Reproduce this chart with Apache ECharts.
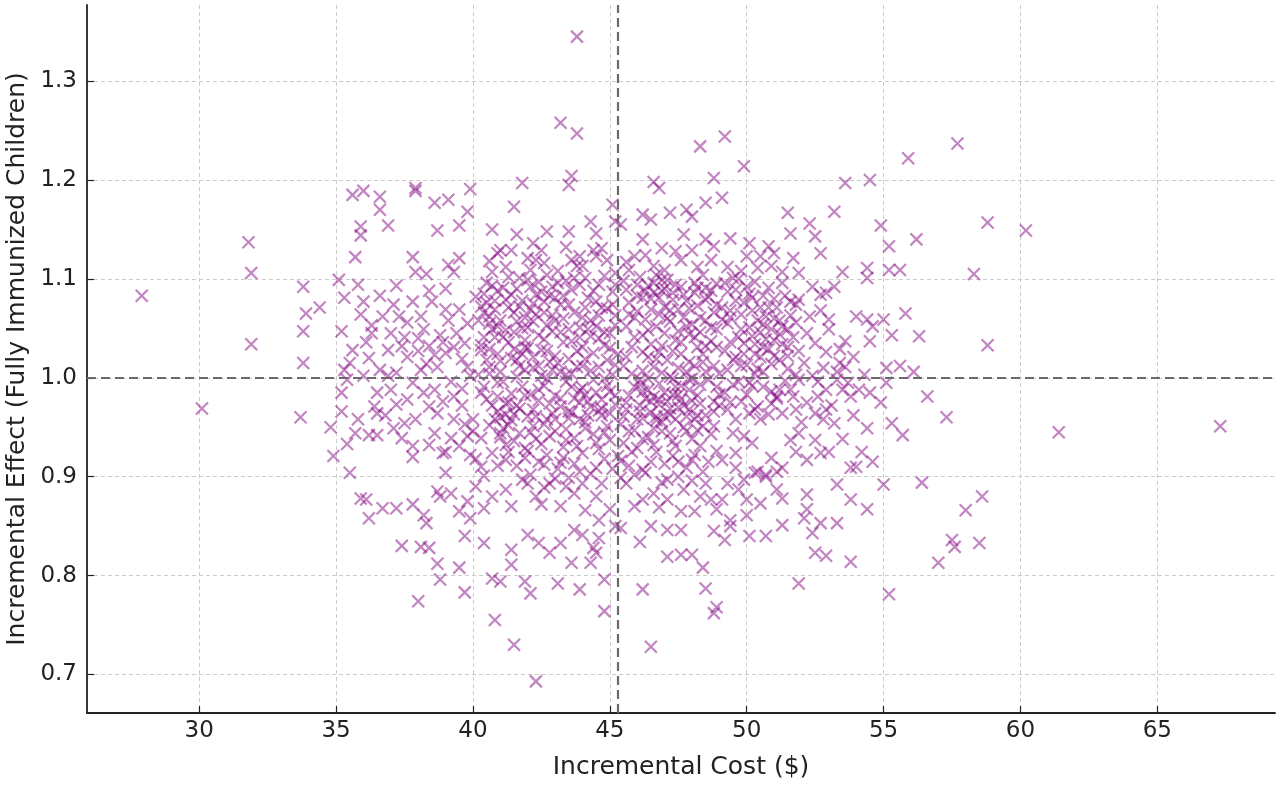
<!DOCTYPE html>
<html><head><meta charset="utf-8">
<script src="https://cdn.jsdelivr.net/npm/echarts@6/dist/echarts.min.js"></script>
<style>html,body{margin:0;padding:0;background:#fff}#c{width:1280px;height:787px}</style>
</head><body><div id="c"></div>
<script>
const xTicks = [30, 35, 40, 45, 50, 55, 60, 65];
const yTicks = [0.7, 0.8, 0.9, 1.0, 1.1, 1.2, 1.3];
const meanCost = 45.3;
const meanEffect = 1.0;

const periphery = [[27.9,1.083],[30.1,0.969],[31.8,1.137],[31.9,1.106],[31.9,1.034],[67.3,0.951],[61.4,0.945],[60.2,1.149],[58.8,1.157],[58.8,1.033],[58.3,1.105],[57.7,1.237],[58.6,0.880],[58.5,0.833],[58.0,0.866],[57.5,0.836],[57.6,0.829],[57.3,0.960],[56.6,0.981],
[43.8,1.345],[43.2,1.258],[43.8,1.247],[49.2,1.244],[48.3,1.234]];

const upperLeft = [[35.6,1.185],[36.0,1.189],[36.6,1.183],[36.6,1.170],[36.9,1.154],[35.9,1.153],[35.9,1.144],[37.9,1.192],[37.9,1.189],[38.6,1.177],[39.1,1.180],[39.9,1.191],[39.8,1.168],[38.7,1.149],[39.5,1.154],[40.7,1.150],[35.7,1.122],[37.8,1.122],[37.9,1.107],[38.3,1.105],[39.1,1.114],[39.5,1.121],[39.3,1.107],[40.7,1.107],[40.9,1.126],[33.8,1.092],[35.1,1.099],[35.8,1.094],[35.3,1.081],[36.0,1.077],[37.2,1.093],[33.9,1.065],[34.4,1.071],[33.8,1.047],[33.8,1.015],[37.1,1.074],[37.3,1.062],[37.8,1.077],[38.5,1.077],[38.1,1.062],[39.0,1.069],[36.3,1.053],[36.7,1.062],[36.1,1.036],[36.2,1.020],[35.5,1.015],[35.3,1.008],[36.6,1.008],[37.2,1.005],[38.0,1.027],[38.4,1.032],[38.8,1.043],[39.0,1.025],[39.7,1.035],[39.8,1.055],[40.1,1.082],[40.5,1.076],[40.6,1.055],[40.3,1.028],[39.8,1.011],[40.6,1.011],[38.7,1.011],[38.1,1.008],[37.8,0.995],[35.2,0.985],[36.5,0.985],[38.6,0.988],[39.3,0.981],[40.3,0.985],[37.6,0.978]];

const lowerLeft = [[33.7,0.960],[35.2,0.966],[34.8,0.950],[35.7,0.944],[35.4,0.933],[34.9,0.921],[35.5,0.904],[36.2,0.942],[36.5,0.942],[36.5,0.964],[37.1,0.949],[37.5,0.954],[37.8,0.931],[37.8,0.920],[38.4,0.932],[38.7,0.964],[38.9,0.924],[39.0,0.925],[39.5,0.931],[40.0,0.946],[40.3,0.910],[39.9,0.922],[39.0,0.904],[35.9,0.878],[36.1,0.877],[36.2,0.858],[36.7,0.868],[37.2,0.868],[37.8,0.872],[38.2,0.861],[38.3,0.853],[38.7,0.885],[38.8,0.880],[39.2,0.883],[39.5,0.865],[39.8,0.875],[39.9,0.858],[40.1,0.890],[40.4,0.868],[40.7,0.880],[37.4,0.830],[38.1,0.829],[38.4,0.828],[38.7,0.812],[38.8,0.796],[39.5,0.808],[39.7,0.840],[40.4,0.833],[39.7,0.783],[38.0,0.774],[40.8,0.755],[40.7,0.797]];

const lowerMid = [[41.4,0.826],[41.4,0.811],[41.0,0.794],[41.9,0.794],[42.1,0.782],[42.0,0.841],[42.4,0.833],[42.8,0.823],[43.2,0.833],[43.1,0.792],[43.6,0.813],[43.9,0.786],[43.7,0.846],[44.0,0.841],[44.4,0.828],[44.5,0.823],[44.3,0.813],[44.6,0.838],[44.8,0.796],[44.8,0.764],[41.5,0.730],[42.3,0.693],[46.5,0.728],[46.2,0.786],[47.1,0.846],[47.6,0.846],[47.1,0.819],[47.6,0.821],[48.0,0.821],[48.4,0.808],[48.5,0.787],[48.8,0.762],[48.9,0.768],[48.8,0.845],[47.6,0.865],[46.5,0.850],[46.1,0.834],[45.4,0.848],[48.7,0.877],
[41.4,0.870],[42.3,0.880],[43.2,0.870],[43.4,0.890],[43.7,0.883],[44.5,0.880],[44.6,0.856],[45.0,0.867],[45.2,0.850],[45.9,0.870],[46.2,0.877],[46.6,0.883],[47.1,0.877],[47.7,0.887],[48.3,0.880],[48.9,0.867],[41.2,0.887],[42.0,0.893],[42.8,0.893],[44.0,0.893],[45.6,0.893],[47.1,0.897],[48.5,0.893]];

const midBand = [[41.2,0.974],[41.7,0.969],[42.4,0.977],[43.2,0.971],[43.9,0.975],[44.6,0.967],[45.2,0.973],[46.1,0.966],[46.8,0.978],[47.5,0.970],[48.3,0.974],[48.8,0.966],
[41.4,0.957],[42.0,0.961],[42.6,0.953],[43.5,0.959],[44.1,0.955],[44.7,0.962],[45.4,0.953],[46.2,0.959],[46.9,0.955],[47.8,0.961],[48.4,0.951],
[41.0,0.940],[41.7,0.944],[42.3,0.938],[43.0,0.946],[43.7,0.939],[44.4,0.943],[45.0,0.937],[45.7,0.946],[46.4,0.940],[47.2,0.944],[48.0,0.938],[48.7,0.943],
[41.3,0.925],[41.9,0.929],[42.7,0.922],[43.3,0.930],[44.0,0.924],[44.6,0.928],[45.3,0.921],[46.0,0.929],[46.7,0.925],[47.4,0.931],[48.1,0.922],
[41.6,0.911],[42.4,0.915],[43.1,0.908],[43.7,0.913],[44.5,0.909],[45.4,0.916],[46.2,0.907],[47.0,0.913],[47.8,0.909],[48.6,0.915],
[42.1,0.902],[43.0,0.898],[44.3,0.903],[45.4,0.899],[46.3,0.904],[47.5,0.900],[48.4,0.905]];

const upperMid = [[41.8,1.197],[41.5,1.173],[43.6,1.204],[43.5,1.195],[46.6,1.198],[46.8,1.192],[45.1,1.175],[45.2,1.158],[45.4,1.155],[44.3,1.158],[44.5,1.146],[43.5,1.148],[42.7,1.148],[41.6,1.145],[41.0,1.129],[41.4,1.129],[42.2,1.136],[42.5,1.129],[42.0,1.121],[42.3,1.119],[43.6,1.119],[43.9,1.123],[44.4,1.129],[44.5,1.123],[46.2,1.165],[46.5,1.160],[47.2,1.167],[47.8,1.170],[46.2,1.140],[46.9,1.131],[47.7,1.145],[45.9,1.123],[47.6,1.119],[48.0,1.129],[45.7,1.109],[46.6,1.113],[48.0,1.163],[43.8,1.113],[44.9,1.119],[45.2,1.106],
[40.6,1.118],[41.2,1.112],[42.6,1.116],[43.1,1.108],[44.0,1.113],[44.7,1.131],[45.6,1.117],[46.3,1.124],[47.0,1.109],[47.4,1.128],[48.2,1.112],[48.7,1.119],[49.3,1.112],[49.8,1.108],[50.4,1.111],[51.0,1.126],[42.1,1.109],[43.4,1.132],[46.7,1.104],[50.3,1.097]];

const upperRight = [[49.9,1.214],[48.8,1.202],[49.1,1.182],[48.5,1.177],[55.9,1.222],[53.6,1.197],[54.5,1.200],[51.5,1.167],[53.2,1.168],[52.3,1.156],[52.5,1.143],[51.6,1.146],[54.9,1.154],[55.2,1.133],[56.2,1.140],[52.7,1.126],[51.7,1.121],[49.4,1.141],[48.5,1.140],[48.8,1.133],[50.1,1.136],[50.8,1.133],[50.5,1.123],[50.0,1.123],[50.9,1.113],[51.3,1.107],[51.9,1.106],[53.5,1.107],[54.4,1.111],[54.4,1.101],[55.2,1.109],[55.6,1.109],[56.3,1.042],[53.2,1.092],[52.7,1.084],[52.9,1.086],[54.0,1.062],[54.4,1.059],[55.0,1.059],[55.8,1.065],[55.3,1.043],[54.5,1.037],[53.6,1.037],[53.0,1.059],[53.0,1.049],[52.2,1.045],[52.5,1.035],[51.9,1.027],[51.9,1.079],[51.8,1.074],[51.6,1.077],[51.3,1.096],[56.1,1.006],[55.1,1.010],[53.6,1.011],[53.4,1.015],[53.3,1.006],[52.8,1.010],[53.5,0.988],[52.9,0.988],[51.9,0.998],[51.6,0.988],[51.1,0.981],[50.1,0.995],[54.3,1.003],[54.5,0.985],[55.1,0.995],[54.9,0.975],[55.6,1.012],[52.6,0.981],[53.1,0.972],[53.7,0.995],[52.2,0.975],[53.9,0.962]];

const lowerRight = [[54.4,0.949],[55.3,0.954],[55.7,0.942],[51.9,0.944],[52.5,0.937],[53.0,0.925],[52.7,0.924],[51.8,0.925],[52.2,0.917],[54.2,0.925],[54.6,0.915],[53.8,0.909],[54.0,0.910],[53.3,0.892],[55.0,0.892],[56.4,0.894],[53.8,0.877],[54.4,0.867],[52.2,0.882],[51.3,0.878],[51.1,0.887],[51.3,0.909],[52.2,0.867],[52.1,0.858],[52.7,0.853],[53.3,0.853],[51.3,0.851],[52.4,0.843],[52.5,0.823],[52.9,0.820],[53.8,0.814],[51.9,0.792],[55.2,0.781],[57.0,0.813],[50.1,0.840],[50.7,0.840],[49.4,0.850],[49.2,0.836],[50.0,0.861],[50.5,0.873],[50.0,0.877],[49.4,0.856],[50.3,0.904],[50.7,0.900],[51.1,0.905],[49.9,0.897],[49.7,0.887],[49.3,0.893],[49.1,0.877],
[49.3,0.968],[49.6,0.958],[50.1,0.964],[50.5,0.958],[50.8,0.963],[51.3,0.964],[51.8,0.968],[52.5,0.964],[52.9,0.968],[52.8,0.958],[53.2,0.954],[49.5,0.944],[49.9,0.941],[50.2,0.934],[49.6,0.924],[49.1,0.917],[50.4,0.905],[50.7,0.902]];

const coreLeft = [[40.4,1.085],[40.6,1.062],[40.8,1.041],[40.5,1.018],[40.9,0.995],[40.7,0.972],[41.1,1.091],[41.3,1.071],[41.2,1.048],[41.5,1.029],[41.0,1.006],[41.4,0.984],[41.2,0.963],[41.7,1.101],[41.8,1.078],[41.6,1.057],[41.9,1.038],[41.7,1.012],[41.8,0.991],[41.6,0.972],[42.1,1.092],[42.3,1.064],[42.0,1.051],[42.4,1.043],[42.2,1.021],[42.5,1.002],[42.1,0.983],[42.3,0.961],[42.7,1.104],[42.8,1.083],[42.6,1.066],[42.9,1.047],[42.7,1.027],[42.9,1.008],[42.6,0.992],[42.8,0.974],[43.1,1.096],[43.2,1.074],[43.0,1.058],[43.3,1.036],[43.1,1.015],[43.4,0.996],[43.2,0.979],[43.0,0.958],[43.6,1.089],[43.7,1.066],[43.5,1.049],[43.8,1.027],[43.6,1.004],[43.9,0.987],[43.5,0.966],[44.1,1.101],[44.2,1.081],[44.0,1.061],[44.3,1.042],[44.1,1.019],[44.4,0.998],[44.2,0.976],[44.6,1.094],[44.7,1.071],[44.5,1.052],[44.8,1.033],[44.6,1.011],[44.9,0.992],[44.7,0.969],[45.1,1.087],[45.2,1.063],[45.0,1.045],[45.3,1.024],[45.1,1.003],[45.2,0.982],
[40.3,1.072],[40.8,1.078],[41.0,1.058],[41.4,1.084],[41.9,1.061],[42.2,1.075],[42.5,1.087],[41.3,1.036],[40.6,1.029],[41.6,1.018],[42.0,1.030],[42.4,1.012],[43.3,1.083],[43.9,1.051],[44.3,1.058],[44.9,1.070],[43.4,1.003],[44.0,0.990],[42.6,1.039],[43.7,0.979],[44.5,0.985],[45.0,0.964],[40.9,1.052],[41.5,1.046],[42.9,1.063],[43.6,1.037],[44.8,1.046],[40.4,1.041],[40.2,1.003],[41.8,1.024]];

const coreCenter = [[45.5,1.098],[45.7,1.076],[45.6,1.052],[45.8,1.031],[45.5,1.012],[45.9,0.991],[45.6,0.968],[46.1,1.102],[46.3,1.088],[46.0,1.067],[46.2,1.043],[46.4,1.021],[46.1,0.998],[46.3,0.979],[46.0,0.958],[46.6,1.096],[46.8,1.081],[46.5,1.069],[46.7,1.052],[46.9,1.032],[46.6,1.011],[46.8,0.994],[46.5,0.976],[46.7,0.961],[47.1,1.099],[47.3,1.086],[47.0,1.072],[47.2,1.057],[47.4,1.038],[47.1,1.018],[47.3,0.999],[47.5,0.983],[47.2,0.969],[47.6,1.092],[47.8,1.078],[47.7,1.061],[47.9,1.044],[47.6,1.024],[47.8,1.006],[47.9,0.988],[47.7,0.972],[48.1,1.096],[48.2,1.073],[48.0,1.054],[48.2,1.031],[48.1,1.012],[48.3,0.993],[48.0,0.977],
[46.4,1.093],[46.9,1.099],[47.4,1.094],[46.6,1.086],[47.0,1.090],[46.2,1.081],[47.5,1.069],[46.4,0.988],[47.0,0.985],[47.6,0.978],[46.8,0.973],[47.4,0.991],[47.9,0.998],[46.2,1.007],[47.2,1.001],[48.1,1.086],[45.9,1.061]];

const coreRight = [[48.4,1.104],[48.6,1.082],[48.5,1.058],[48.7,1.037],[48.4,1.016],[48.6,0.998],[48.8,0.976],[48.9,1.095],[49.1,1.071],[48.9,1.049],[49.2,1.027],[49.0,1.004],[49.2,0.985],[49.5,1.101],[49.6,1.078],[49.4,1.061],[49.7,1.041],[49.5,1.018],[49.7,0.996],[49.4,0.975],[50.0,1.092],[50.2,1.068],[50.1,1.051],[50.3,1.034],[50.0,1.013],[50.2,0.992],[50.4,0.971],[50.6,1.083],[50.7,1.062],[50.5,1.046],[50.8,1.029],[50.6,1.006],[50.9,0.986],[51.1,1.071],[51.3,1.052],[51.0,1.038],[51.2,1.018],[51.4,0.997],[51.1,0.979],[51.6,1.063],[51.7,1.041],[51.5,1.022],[51.8,1.003],
[50.4,1.058],[50.7,1.039],[50.9,1.049],[50.3,1.024],[51.0,1.060],[50.5,1.021],[49.9,1.035],[49.8,1.064],[48.8,1.066],[49.3,1.087],[48.5,1.091],[51.3,1.034]];

const leftBand = [[39.2,0.996],[39.6,0.972],[40.0,0.958],[40.3,0.939],[40.6,0.952],[40.9,0.966],[40.5,0.978],[41.0,0.944],[39.8,0.941],[40.1,0.918],[40.7,0.924],[41.2,0.932],[40.4,0.901],[40.9,0.911],[39.3,0.958],[38.9,0.976],[38.4,0.971],[37.9,0.958],[37.2,0.973],[36.8,0.962],[36.4,0.971],[35.8,0.958],[35.4,0.998],[36.9,1.002],[38.6,1.023],[37.5,1.041],[38.2,1.049],[39.4,1.045],[39.9,1.002],[37.0,1.045],[36.6,1.083],[35.9,1.064],[35.2,1.047],[35.6,1.028],
[36.3,1.045],[37.6,1.021],[38.3,1.014],[39.1,1.058],[39.6,1.019],[37.0,0.988],[38.2,0.985],[39.6,0.989],[36.0,1.002],[37.4,1.032],[38.9,1.036],[39.5,1.069],
[39.0,1.090],[38.4,1.088],[37.6,1.056],[39.3,1.031],[38.0,1.040],[36.9,1.028],[39.7,0.953],[38.6,0.944],[37.4,0.939],[39.2,0.939]];

const coreExtraLeft = [[40.5,1.096],[40.9,1.088],[41.3,1.102],[41.6,1.090],[42.0,1.099],[42.4,1.097],[42.9,1.092],[43.4,1.098],[43.9,1.094],[44.4,1.088],[44.8,1.103],[45.2,1.094],
[40.4,1.066],[40.8,1.069],[41.2,1.079],[41.7,1.072],[42.1,1.069],[42.6,1.077],[43.0,1.081],[43.5,1.074],[44.1,1.071],[44.5,1.077],[45.1,1.074],
[40.7,1.049],[41.1,1.041],[41.8,1.050],[42.2,1.057],[42.7,1.053],[43.2,1.046],[43.9,1.041],[44.2,1.049],[44.6,1.040],[45.2,1.053],
[40.3,1.033],[40.9,1.024],[41.4,1.020],[41.9,1.031],[42.5,1.028],[43.0,1.022],[43.5,1.019],[44.0,1.031],[44.4,1.025],[44.9,1.018],
[40.6,1.004],[41.1,0.996],[41.6,1.001],[42.2,1.010],[42.7,0.999],[43.2,1.006],[43.8,1.011],[44.3,1.007],[44.8,0.999],[45.2,1.013],
[40.4,0.991],[40.9,0.981],[41.3,0.975],[41.9,0.982],[42.4,0.988],[43.0,0.982],[43.6,0.991],[44.1,0.983],[44.7,0.978],[45.0,0.986],
[40.8,0.958],[41.5,0.963],[42.2,0.951],[42.9,0.964],[43.4,0.948],[44.2,0.962],[44.9,0.951],[41.1,0.949],[43.8,0.931],[42.5,0.933],
[40.2,1.058],[40.7,1.093],[41.0,1.017],[41.5,1.066],[41.9,1.008],[42.3,1.084],[42.8,1.016],[43.3,1.060],[43.7,1.101],[44.0,1.012],[44.6,1.063],[45.0,1.030]];

const coreExtraCenter = [[45.6,1.089],[46.0,1.094],[46.5,1.080],[46.9,1.088],[47.3,1.079],[47.7,1.084],[48.2,1.091],[48.5,1.079],
[45.7,1.064],[46.3,1.059],[46.8,1.064],[47.2,1.068],[47.8,1.052],[48.3,1.061],
[45.9,1.041],[46.5,1.034],[47.0,1.045],[47.6,1.036],[48.1,1.041],[48.5,1.032],
[45.6,1.021],[46.2,1.026],[46.7,1.019],[47.3,1.027],[47.9,1.016],[48.4,1.024],
[45.8,1.004],[46.4,0.999],[46.9,1.005],[47.5,1.010],[48.0,0.999],[48.5,1.006],
[45.7,0.982],[46.2,0.986],[46.6,0.981],[47.1,0.976],[47.6,0.992],[48.2,0.982],
[45.5,0.961],[46.1,0.972],[46.5,0.965],[47.0,0.961],[47.4,0.958],[47.9,0.968],[48.5,0.962],
[45.9,0.947],[46.6,0.949],[47.3,0.936],[48.2,0.947],
[46.0,1.083],[46.4,1.048],[46.8,1.026],[47.1,1.060],[47.5,1.047],[47.9,1.070],[48.3,1.046],[46.1,0.993],[46.7,0.957],[47.3,0.983],[47.8,0.946]];

const coreExtraRight = [[48.7,1.088],[49.2,1.096],[49.6,1.089],[50.2,1.081],[50.8,1.091],[51.4,1.083],
[48.9,1.074],[49.4,1.068],[49.9,1.076],[50.5,1.071],[51.0,1.080],[51.5,1.049],
[48.7,1.051],[49.3,1.055],[49.8,1.049],[50.2,1.042],[50.6,1.054],[51.2,1.044],[51.8,1.056],
[48.9,1.031],[49.4,1.036],[49.9,1.024],[50.6,1.031],[51.0,1.022],[51.5,1.031],
[48.8,1.012],[49.3,1.008],[49.8,1.012],[50.3,1.004],[50.9,1.014],[51.5,1.009],
[48.9,0.991],[49.5,0.993],[50.0,0.983],[50.6,0.991],[51.2,0.988],[51.7,0.981],
[49.0,0.972],[49.8,0.976],[50.3,0.968],[50.9,0.974],
[52.3,1.062],[52.9,1.026],[53.4,1.029],[52.4,1.002],[53.9,1.021],[54.6,1.052],[52.6,0.996],[53.8,0.981],
[49.1,1.059],[49.6,1.021],[50.1,1.085],[50.4,1.009],[50.8,1.071],[51.2,1.058],[49.0,0.983],[49.7,1.100],
[52.1,1.015],[52.7,1.068],[53.3,0.998],[52.0,0.955],[53.5,0.938],[54.1,0.988],[52.4,1.092]];

const coreExtraLow = [[41.5,0.936],[42.1,0.945],[42.8,0.941],[43.4,0.937],[44.1,0.949],[44.8,0.945],[45.5,0.934],[46.2,0.938],[46.9,0.946],[47.7,0.950],[48.3,0.931],
[41.2,0.917],[41.9,0.919],[42.6,0.912],[43.3,0.919],[43.9,0.905],[44.8,0.918],[45.7,0.911],[46.5,0.915],[47.3,0.921],[48.0,0.917],[48.9,0.926],
[41.8,0.897],[42.6,0.889],[43.5,0.899],[44.7,0.893],[45.9,0.902],[46.9,0.894],[48.0,0.896],
[41.0,0.960],[42.2,0.968],[43.6,0.965],[44.3,0.971],[45.6,0.975],[47.2,0.963],[48.1,0.958],
[41.3,0.952],[42.0,0.926],[42.7,0.958],[43.2,0.914],[43.9,0.958],[44.5,0.934],[45.1,0.908],[45.8,0.925],[46.6,0.932],[47.5,0.915],[48.2,0.962],[48.8,0.951],
[49.6,0.909],[50.9,0.919],[51.6,0.937],[42.5,0.872],[44.1,0.866],[46.8,0.869],[48.1,0.865]];

const points = [].concat(periphery, upperLeft, lowerLeft, lowerMid, midBand, upperMid, upperRight, lowerRight,
  coreLeft, coreCenter, coreRight, leftBand, coreExtraLeft, coreExtraCenter, coreExtraRight, coreExtraLow);

const FONT = 'DejaVu Sans';
const TXT = '#222222';
const chart = echarts.init(document.getElementById('c'));
chart.setOption({
  animation: false,
  backgroundColor: '#ffffff',
  grid: { left: 87, right: 5, top: 5, bottom: 74, containLabel: false, outerBoundsMode: 'none' },
  xAxis: {
    type: 'value', min: 25.9, max: 69.3,
    name: 'Incremental Cost ($)', nameLocation: 'middle', nameGap: 42,
    nameTextStyle: { fontSize: 25, color: TXT, fontFamily: FONT },
    axisLine: { onZero: false, lineStyle: { color: TXT, width: 1.8 } },
    axisTick: { show: true, inside: true, length: 7, customValues: xTicks, lineStyle: { color: TXT, width: 1.2 } },
    axisLabel: { customValues: xTicks, fontSize: 23, color: TXT, margin: 7, fontFamily: FONT, formatter: v => String(v) },
    splitLine: { show: true, lineStyle: { color: '#cccccc', type: [4, 3], width: 1 } }
  },
  yAxis: {
    type: 'value', min: 0.661, max: 1.377,
    name: 'Incremental Effect (Fully Immunized Children)', nameLocation: 'middle', nameGap: 54,
    nameTextStyle: { fontSize: 25, color: TXT, fontFamily: FONT },
    axisLine: { onZero: false, lineStyle: { color: TXT, width: 1.8 } },
    axisTick: { show: true, inside: true, length: 7, customValues: yTicks, lineStyle: { color: TXT, width: 1.2 } },
    axisLabel: { customValues: yTicks, fontSize: 23, color: TXT, margin: 10, fontFamily: FONT, formatter: v => v.toFixed(1) },
    splitLine: { show: true, lineStyle: { color: '#cccccc', type: [4, 3], width: 1 } }
  },
  series: [{
    type: 'scatter',
    data: points,
    symbol: 'path://M0,0L10,10M10,0L0,10',
    symbolSize: 12,
    itemStyle: { color: 'rgba(0,0,0,0)', borderColor: 'rgba(128,0,128,0.6)', borderWidth: 2.2 },
    emphasis: { disabled: true },
    markLine: {
      silent: true, symbol: 'none', animation: false,
      label: { show: false },
      lineStyle: { color: '#6a6a6a', type: [9, 5], width: 2.2 },
      data: [{ xAxis: meanCost }, { yAxis: meanEffect }]
    }
  }]
});
</script>
</body></html>
